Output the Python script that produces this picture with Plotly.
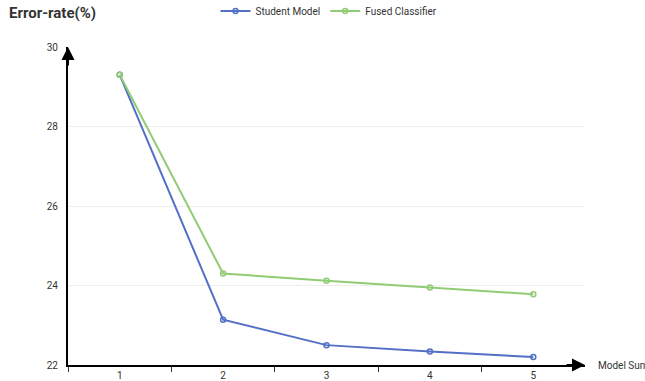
import plotly.graph_objects as go

categories = ["1", "2", "3", "4", "5"]
student_model = [29.3, 23.14, 22.5, 22.34, 22.2]
fused_classifier = [29.3, 24.3, 24.12, 23.95, 23.78]
y_ticks = [22, 24, 26, 28, 30]

xs = list(range(1, len(categories) + 1))

fig = go.Figure()
fig.add_trace(go.Scatter(
    x=xs, y=student_model, name="Student Model", mode="lines+markers",
    line=dict(color="#5470c6", width=2),
    marker=dict(symbol="circle-open", size=5, color="#5470c6", line=dict(width=1.5)),
))
fig.add_trace(go.Scatter(
    x=xs, y=fused_classifier, name="Fused Classifier", mode="lines+markers",
    line=dict(color="#91cc75", width=2),
    marker=dict(symbol="circle-open", size=5, color="#91cc75", line=dict(width=1.5)),
))

font_family = "Roboto, Noto Sans, sans-serif"
W, H = 645, 381
L, R, T, B = 68, 60, 47, 16
plot_h = H - T - B
plot_w = W - L - R

fig.update_layout(
    width=W, height=H,
    margin=dict(l=L, r=R, t=T, b=B, autoexpand=False),
    paper_bgcolor="white", plot_bgcolor="white",
    font=dict(family=font_family, size=10, color="#333"),
    showlegend=True,
    hovermode=False,
    legend=dict(orientation="h", x=(329 - L) / plot_w, xanchor="center",
                y=1 + (T - 11) / plot_h, yanchor="middle",
                font=dict(size=10, color="#333", family=font_family),
                itemwidth=30, tracegroupgap=0, bgcolor="rgba(0,0,0,0)"),
    xaxis=dict(
        range=[0.5, 5.5], tickmode="array", tickvals=xs, ticktext=categories,
        showgrid=False, zeroline=False, showline=True, linecolor="black", linewidth=2,
        ticks="", tickfont=dict(size=10, color="#333"),
        minor=dict(tickmode="array", tickvals=[0.5, 1.5, 2.5, 3.5, 4.5],
                   ticks="outside", ticklen=5, tickcolor="#333", tickwidth=1, showgrid=False),
        fixedrange=True,
    ),
    yaxis=dict(
        range=[22, 30], tickmode="array", tickvals=y_ticks,
        showgrid=True, gridcolor="#eeeeee", gridwidth=1, zeroline=False,
        showline=True, linecolor="black", linewidth=2, ticks="",
        tickfont=dict(size=10, color="#333"), ticklabelstandoff=6,
        fixedrange=True,
    ),
)

# axis arrows
fig.add_annotation(xref="paper", yref="paper", x=0, y=1.0, ax=0, ay=20,
                   showarrow=True, arrowhead=2, arrowsize=1.3, arrowwidth=2,
                   arrowcolor="black", text="")
fig.add_annotation(xref="paper", yref="paper", x=1.0, y=0, ax=-20, ay=0,
                   showarrow=True, arrowhead=2, arrowsize=1.3, arrowwidth=2,
                   arrowcolor="black", text="")

# axis names
fig.add_annotation(xref="paper", yref="paper", x=-(L - 7) / plot_w, y=1, yshift=T - 12.5,
                   xanchor="left", yanchor="middle", showarrow=False,
                   text="<b>Error-rate(%)</b>",
                   font=dict(size=15, color="#333", family=font_family))
fig.add_annotation(xref="paper", yref="paper", x=1, y=0, xshift=11,
                   xanchor="left", yanchor="middle", showarrow=False,
                   text="Model Sum",
                   font=dict(size=10, color="#333", family=font_family))

fig.write_html("out.html", config={"displayModeBar": False, "staticPlot": True},
               post_script="document.body.style.margin='0';")
